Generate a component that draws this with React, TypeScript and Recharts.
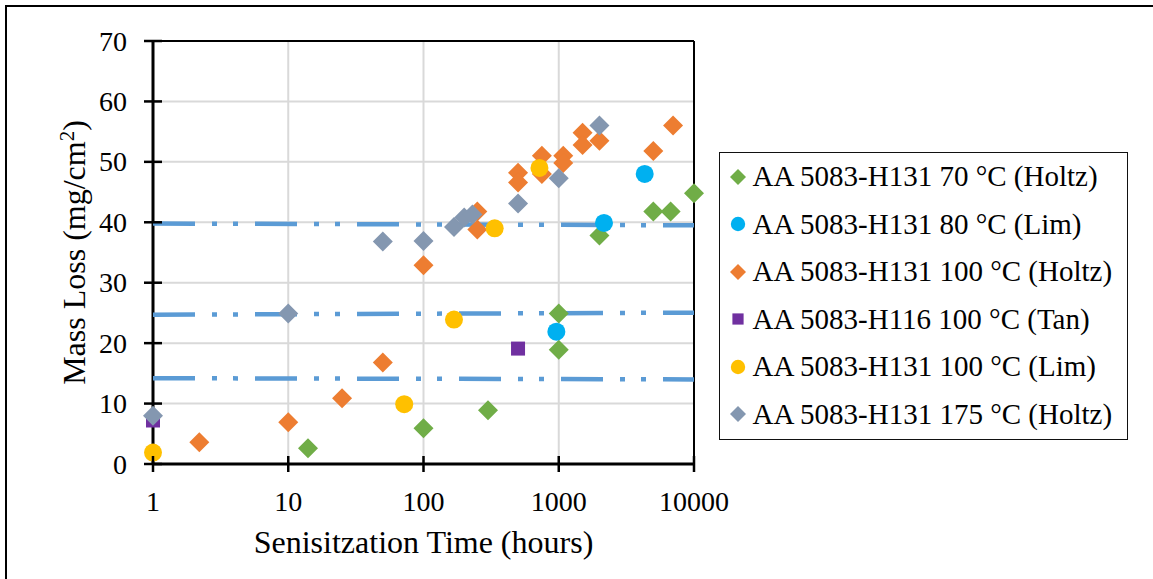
import React from 'react';
import {
  ScatterChart,
  Scatter,
  XAxis,
  YAxis,
  CartesianGrid,
  ReferenceLine,
  Legend,
} from 'recharts';

// Sensitization time (h) vs mass loss (mg/cm2)
const holtz70Hours = [14, 100, 300, 1000, 1000, 2000, 5000, 6720, 10000];
const holtz70Loss = [2.6, 5.9, 8.9, 24.9, 18.9, 37.8, 41.8, 41.8, 44.8];

const lim80Hours = [960, 2160, 4320];
const lim80Loss = [21.9, 39.9, 48];

const holtz100Hours = [2.2, 10, 25, 50, 100, 250, 250, 500, 500, 750, 750, 1080, 1080, 1500, 1500, 2000, 5000, 7000];
const holtz100Loss = [3.6, 6.9, 10.9, 16.8, 32.9, 41.8, 38.8, 48.2, 46.6, 51, 48, 51, 49.8, 54.8, 52.8, 53.5, 51.8, 56];

const tanHours = [1, 500];
const tanLoss = [7.2, 19.1];

const lim100Hours = [1, 72, 168, 336, 720];
const lim100Loss = [1.9, 9.9, 23.9, 39, 49];

const holtz175Hours = [1, 10, 50, 100, 168, 200, 230, 500, 1000, 2000];
const holtz175Loss = [8, 24.9, 36.8, 36.9, 39.2, 40.8, 41.3, 43.1, 47.3, 56];

// dash-dot threshold lines (left end, right end)
const lineHours = [1, 10000];
const upperLine = [39.8, 39.5];
const middleLine = [24.7, 25.05];
const lowerLine = [14.2, 14.0];

const xTicks = [1, 10, 100, 1000, 10000];
const yTicks = [0, 10, 20, 30, 40, 50, 60, 70];

const FONT = '"Liberation Serif", "Times New Roman", serif';
const AXIS_X = 153;
const AXIS_Y = 464;

const zip = (xs: number[], ys: number[]) => xs.map((x, i) => ({ x, y: ys[i] }));

type Shape = 'diamond' | 'circle' | 'square';

const SERIES: { name: string; color: string; shape: Shape; data: { x: number; y: number }[] }[] = [
  { name: 'AA 5083-H131 70 °C (Holtz)', color: '#70AD47', shape: 'diamond', data: zip(holtz70Hours, holtz70Loss) },
  { name: 'AA 5083-H131 80 °C (Lim)', color: '#00B0F0', shape: 'circle', data: zip(lim80Hours, lim80Loss) },
  { name: 'AA 5083-H131 100 °C (Holtz)', color: '#ED7D31', shape: 'diamond', data: zip(holtz100Hours, holtz100Loss) },
  { name: 'AA 5083-H116 100 °C (Tan)', color: '#7030A0', shape: 'square', data: zip(tanHours, tanLoss) },
  { name: 'AA 5083-H131 100 °C (Lim)', color: '#FFC000', shape: 'circle', data: zip(lim100Hours, lim100Loss) },
  { name: 'AA 5083-H131 175 °C (Holtz)', color: '#8497B0', shape: 'diamond', data: zip(holtz175Hours, holtz175Loss) },
];

const LINES = [upperLine, middleLine, lowerLine].map((vals) => zip(lineHours, vals));

function Marker({ cx, cy, shape, color, scale = 1 }: { cx: number; cy: number; shape: Shape; color: string; scale?: number }) {
  if (shape === 'circle') return <circle cx={cx} cy={cy} r={9 * scale} fill={color} />;
  if (shape === 'square') {
    const h = 7 * scale;
    return <rect x={cx - h} y={cy - h} width={2 * h} height={2 * h} fill={color} />;
  }
  const d = 10 * scale;
  return <path d={`M${cx},${cy - d}L${cx + d},${cy}L${cx},${cy + d}L${cx - d},${cy}Z`} fill={color} />;
}

const YTick = (props: any) => {
  const y = props.payload?.coordinate ?? props.y;
  return (
    <g>
      <line x1={AXIS_X - 9} x2={AXIS_X + 9} y1={y} y2={y} stroke="#000" strokeWidth={2.5} />
      <text x={127} y={y + 9.5} textAnchor="end" fontSize={28} fontFamily={FONT} fill="#000">
        {props.payload.value}
      </text>
    </g>
  );
};

const XTick = (props: any) => {
  const x = props.payload?.coordinate ?? props.x;
  return (
    <g>
      <line x1={x} x2={x} y1={AXIS_Y - 8} y2={AXIS_Y + 8} stroke="#000" strokeWidth={2.5} />
      <text x={x} y={510.5} textAnchor="middle" fontSize={28} fontFamily={FONT} fill="#000">
        {props.payload.value}
      </text>
    </g>
  );
};

const XTitle = () => (
  <text x={423.5} y={553} textAnchor="middle" fontSize={32} fontFamily={FONT} fill="#000">
    Senisitzation Time (hours)
  </text>
);

const YTitle = () => (
  <text x={85} y={252.5} transform="rotate(-90 85 252.5)" textAnchor="middle" fontSize={32} fontFamily={FONT} fill="#000">
    <tspan>Mass Loss (mg/cm</tspan>
    <tspan dy={-11} fontSize={21}>2</tspan>
    <tspan dy={11}>)</tspan>
  </text>
);

const LegendBox = () => (
  <div
    style={{
      boxSizing: 'border-box',
      width: 409,
      height: 288,
      border: '1.5px solid #111',
      background: '#fff',
      fontFamily: FONT,
      fontSize: 29,
      color: '#000',
    }}
  >
    {SERIES.map((s) => (
      <div key={s.name} style={{ height: 47.5, display: 'flex', alignItems: 'center', whiteSpace: 'nowrap' }}>
        <svg width={20} height={20} style={{ marginLeft: 7.5, flex: 'none' }}>
          <Marker cx={10} cy={10} shape={s.shape} color={s.color} scale={0.8} />
        </svg>
        <span style={{ marginLeft: 5, lineHeight: '47.5px' }}>{s.name}</span>
      </div>
    ))}
  </div>
);

export default function App() {
  return (
    <div style={{ position: 'absolute', left: 0, top: 0, width: 1153, height: 579, background: '#fff' }}>
      <div
        style={{
          position: 'absolute',
          left: 5,
          top: 5,
          width: 1148,
          height: 574,
          borderLeft: '2px solid #000',
          borderTop: '2px solid #000',
        }}
      />
      <ScatterChart width={1153} height={579} margin={{ top: 41, right: 459, bottom: 0, left: 0 }}>
        <CartesianGrid stroke="#D9D9D9" strokeWidth={2} />
        <XAxis
          dataKey="x"
          type="number"
          scale="log"
          domain={[1, 10000]}
          ticks={xTicks}
          height={115}
          axisLine={{ stroke: '#000', strokeWidth: 3 }}
          tickLine={false}
          tick={<XTick />}
          label={<XTitle />}
        />
        <YAxis
          dataKey="y"
          type="number"
          domain={[0, 70]}
          ticks={yTicks}
          width={153}
          axisLine={{ stroke: '#000', strokeWidth: 3 }}
          tickLine={false}
          tick={<YTick />}
          label={<YTitle />}
        />
        <ReferenceLine y={70} stroke="#000" strokeWidth={2} />
        <ReferenceLine x={10000} stroke="#000" strokeWidth={2} />
        {LINES.map((data, i) => (
          <Scatter
            key={`line-${i}`}
            data={data}
            line={{ stroke: '#5B9BD5', strokeWidth: 4.5, strokeDasharray: '42 17 5 16 5 17' }}
            shape={() => <g />}
            legendType="none"
            isAnimationActive={false}
          />
        ))}
        {SERIES.map((s) => (
          <Scatter
            key={s.name}
            name={s.name}
            data={s.data}
            fill={s.color}
            shape={(p: any) => <Marker cx={p.cx} cy={p.cy} shape={s.shape} color={s.color} />}
            isAnimationActive={false}
          />
        ))}
        <Legend
          layout="vertical"
          align="center"
          verticalAlign="middle"
          content={<LegendBox />}
          wrapperStyle={{ left: 719, top: 152, width: 409, height: 288 }}
        />
      </ScatterChart>
    </div>
  );
}
